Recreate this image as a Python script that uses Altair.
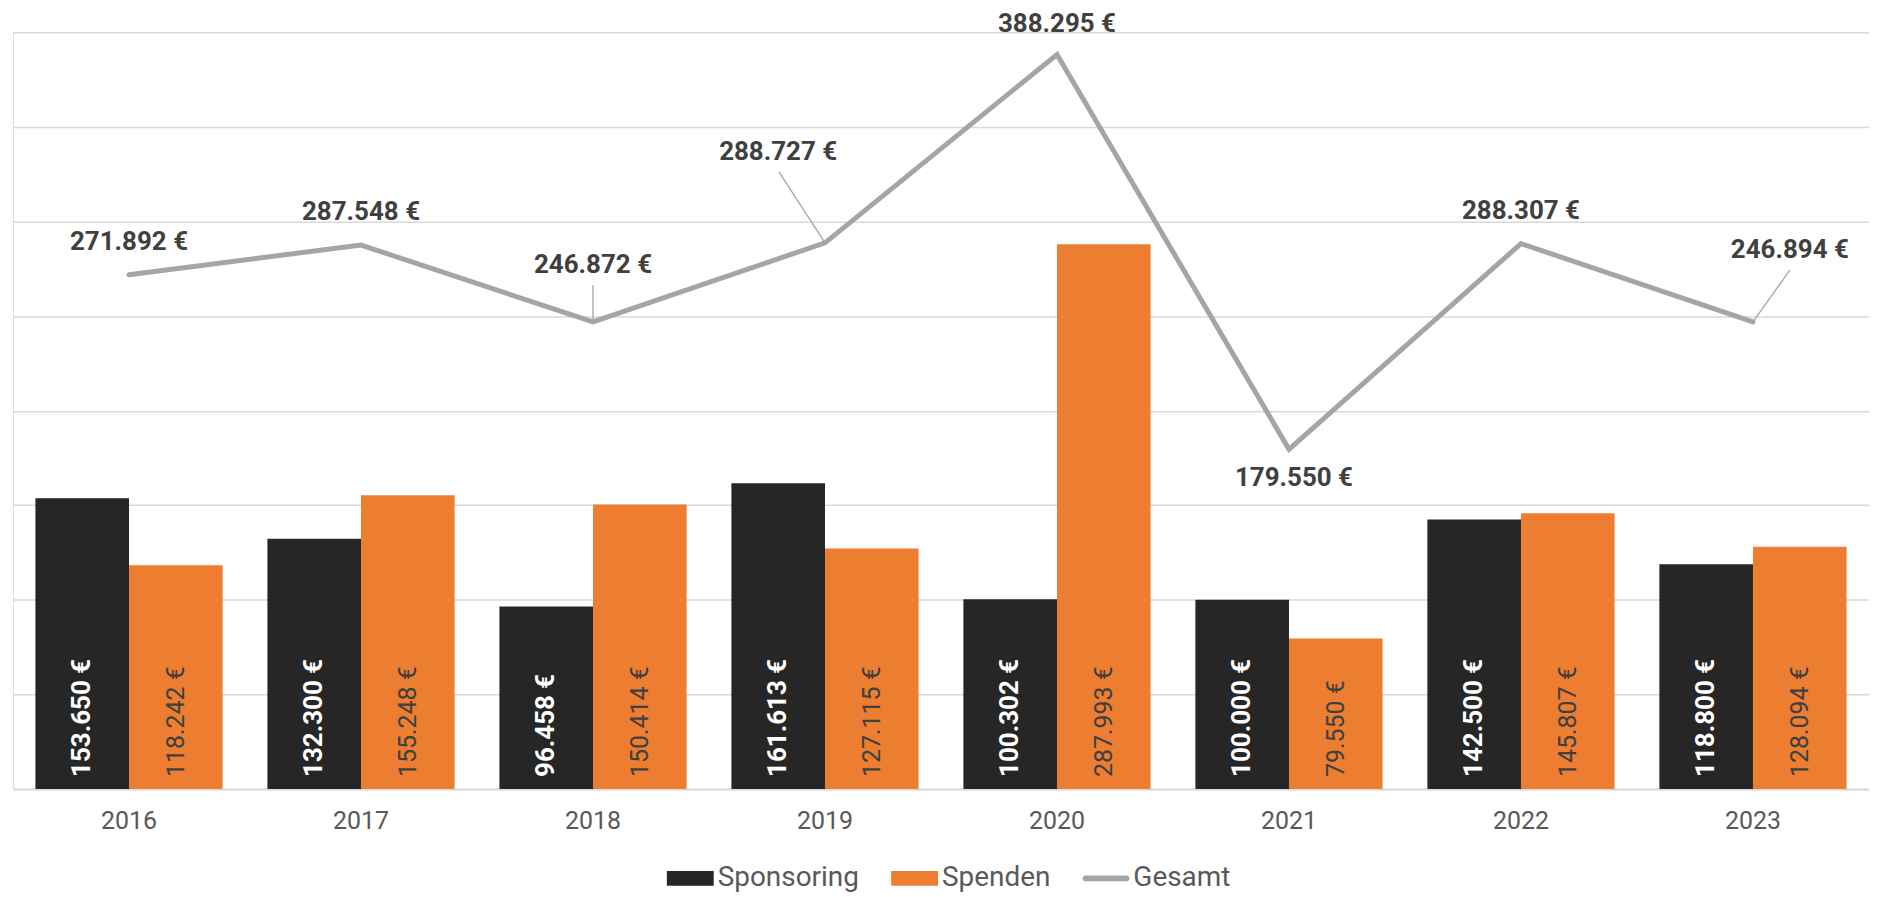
import altair as alt
import pandas as pd

# ---- data ----
years = ["2016", "2017", "2018", "2019", "2020", "2021", "2022", "2023"]
sponsoring = [153650, 132300, 96458, 161613, 100302, 100000, 142500, 118800]
spenden = [118242, 155248, 150414, 127115, 287993, 79550, 145807, 128094]
gesamt = [271892, 287548, 246872, 288727, 388295, 179550, 288307, 246894]
series_names = ["Sponsoring", "Spenden", "Gesamt"]
bar_series = ["Sponsoring", "Spenden"]
y_ticks = [0, 50000, 100000, 150000, 200000, 250000, 300000, 350000, 400000]

# ---- styling ----
series_colors = ["#262626", "#ED7D31", "#A5A5A5"]
FONT = "Roboto"
RECT = "M-1,-0.32H1V0.32H-1Z"
PILL = ("M-0.872,-0.128H0.872A0.128,0.128,0,0,1,0.872,0.128"
        "H-0.872A0.128,0.128,0,0,1,-0.872,-0.128Z")
# manual label nudges (dx, dy) like the moved Excel data labels
label_nudge = {"2016": (0, -33), "2017": (0, -33), "2018": (0, -57), "2019": (-47, -91),
               "2020": (0, -31), "2021": (5, 29), "2022": (0, -33), "2023": (37, -72)}
leader_nudge = {"2018": (0, -37), "2019": (-46, -71), "2023": (37, -52)}

bars_df = pd.DataFrame({
    "year": years * 2,
    "series": ["Sponsoring"] * len(years) + ["Spenden"] * len(years),
    "value": sponsoring + spenden,
})
total_df = pd.DataFrame({"year": years, "value": gesamt, "series": "Gesamt"})
legend_df = pd.DataFrame({"series": series_names})

FMT = "replace(format(datum.value, ','), ',', '.') + ' €'"

yscale = alt.Scale(domain=[0, 400000], nice=False, zero=True)
yaxis = alt.Axis(values=y_ticks, labels=False, ticks=False, domain=False, grid=True,
                 gridColor="#D9D9D9", gridWidth=1.5, title=None)
X = alt.X("year:N", sort=years,
          scale=alt.Scale(paddingInner=0.193, paddingOuter=0.0966),
          axis=alt.Axis(title=None, labelAngle=0, ticks=False, grid=False,
                        labelFontSize=25, labelColor="#595959", labelFont=FONT,
                        labelPadding=20, domainColor="#D9D9D9", domainWidth=2))
XO = alt.XOffset("series:N", sort=bar_series,
                 scale=alt.Scale(domain=bar_series, paddingInner=0, paddingOuter=0))
Yv = alt.Y("value:Q", scale=yscale, axis=yaxis)

bars = alt.Chart(bars_df).mark_bar().encode(
    x=X, xOffset=XO, y=Yv,
    fill=alt.Fill("series:N", scale=alt.Scale(domain=bar_series, range=series_colors[:2]),
                  legend=None),
)

bar_lbl = alt.Chart(bars_df).transform_calculate(zero="0", label=FMT)
spons_lbl = bar_lbl.transform_filter("datum.series == 'Sponsoring'").mark_text(
    angle=270, align="left", baseline="middle", yOffset=-12, fontSize=26,
    fontWeight="bold", color="white", font=FONT,
).encode(x=X, xOffset=XO, y=alt.Y("zero:Q", scale=yscale, axis=yaxis), text="label:N")
spend_lbl = bar_lbl.transform_filter("datum.series == 'Spenden'").mark_text(
    angle=270, align="left", baseline="middle", yOffset=-12, fontSize=25,
    color="#404040", font=FONT,
).encode(x=X, xOffset=XO, y=alt.Y("zero:Q", scale=yscale, axis=yaxis), text="label:N")

line = alt.Chart(total_df).mark_line(
    color="#A5A5A5", strokeWidth=5, strokeCap="round", strokeJoin="miter"
).encode(x=X, y=Yv)

layers = [bars, spons_lbl, spend_lbl, line]

for yr, (ldx, ldy) in leader_nudge.items():
    layers.append(
        alt.Chart(total_df).transform_filter(f"datum.year == '{yr}'").mark_rule(
            color="#A5A5A5", strokeWidth=1.3, x2Offset=ldx, y2Offset=ldy
        ).encode(x=X, x2=alt.X2("year:N"), y=Yv, y2=alt.Y2("value:Q"))
    )

groups = {}
for yr, nd in label_nudge.items():
    groups.setdefault(nd, []).append(yr)
for (dx, dy), yrs in groups.items():
    cond = " || ".join(f"datum.year == '{y}'" for y in yrs)
    layers.append(
        alt.Chart(total_df).transform_filter(cond).transform_calculate(label=FMT).mark_text(
            dx=dx, dy=dy, fontSize=26, fontWeight="bold", color="#404040", font=FONT,
            align="center", baseline="middle",
        ).encode(x=X, y=Yv, text="label:N")
    )

LEG = alt.Legend(title=None, orient="none", direction="horizontal",
                 legendX={"expr": "width / 2 - 275"}, legendY={"expr": "height + 66"},
                 symbolSize=2209, symbolOpacity=1, symbolStrokeWidth=0,
                 labelFontSize=28, labelColor="#595959", labelFont=FONT,
                 columnPadding=32, labelOffset=4)
# invisible point layer that only carries the combined legend
legend_layer = alt.Chart(legend_df).mark_point(
    filled=True, opacity=0
).encode(
    color=alt.Color("series:N", scale=alt.Scale(domain=series_names, range=series_colors),
                    legend=LEG),
    shape=alt.Shape("series:N", scale=alt.Scale(domain=series_names, range=[RECT, RECT, PILL]),
                    legend=LEG),
)
layers.append(legend_layer)

chart = alt.layer(*layers).properties(
    width=1862, height=759,
    padding={"left": 5, "top": 23, "right": 0, "bottom": 106},
    autosize=alt.AutoSizeParams(type="none"),
).configure_view(stroke=None).configure(font=FONT)

chart.save("out.html", embed_options={"renderer": "svg", "actions": False})
